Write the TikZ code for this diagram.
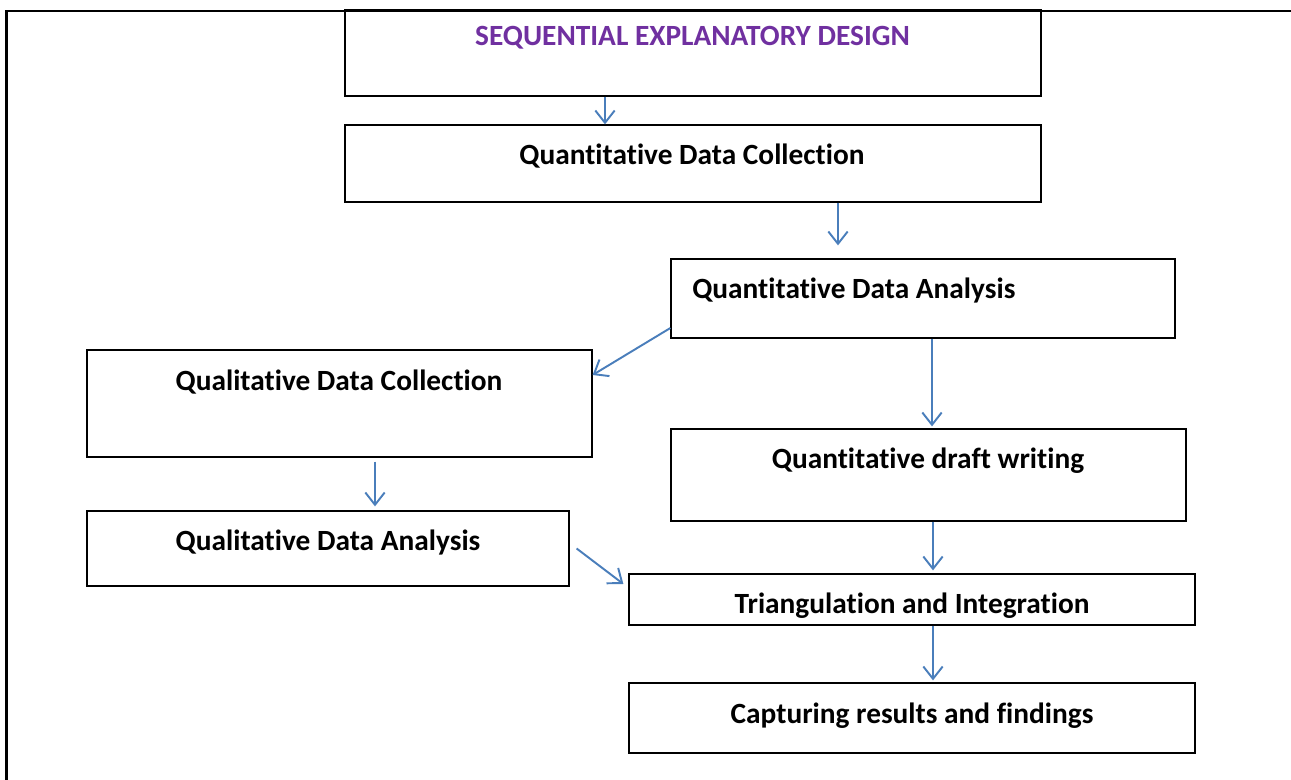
\documentclass[tikz,border=0pt]{standalone}
\usepackage{fontspec}
\setmainfont[Ligatures=NoCommon]{Carlito}
\usetikzlibrary{arrows.meta}
\definecolor{arrowblue}{HTML}{4A7EBB}
\definecolor{titlepurple}{HTML}{7030A0}

\begin{document}
\begin{tikzpicture}[
  box/.style={draw, line width=0.7pt, rectangle, inner sep=0pt},
  lbl/.style={font=\fontsize{16.7}{20}\selectfont\bfseries, anchor=base, inner sep=0pt},
  flow/.style={arrowblue, line width=1.1pt, -{Straight Barb[length=7pt,width=11pt]}}
]

  % --- 1. page frame ---
  \useasboundingbox (0,0) rectangle (25.82,-15.6);
  \draw[line width=1.2pt] (25.82,-0.22) -- (0.13,-0.22) -- (0.13,-15.6);

  % --- 2. boxes ---
  \node[box, minimum width=13.92cm, minimum height=1.72cm] (title)  at (13.86,-1.06) {};
  \node[box, minimum width=13.92cm, minimum height=1.54cm] (qdc)    at (13.86,-3.27) {};
  \node[box, minimum width=10.08cm, minimum height=1.58cm] (qda)    at (18.46,-5.97) {};
  \node[box, minimum width=10.10cm, minimum height=2.14cm] (qualdc) at (6.79,-8.07) {};
  \node[box, minimum width=10.30cm, minimum height=1.84cm] (draft)  at (18.57,-9.50) {};
  \node[box, minimum width=9.64cm,  minimum height=1.50cm] (qualda) at (6.56,-10.97) {};
  \node[box, minimum width=11.32cm, minimum height=1.02cm] (tri)    at (18.24,-11.99) {};
  \node[box, minimum width=11.32cm, minimum height=1.40cm] (cap)    at (18.24,-14.36) {};

  % --- 3. texts ---
  \node[lbl, text=titlepurple] (titletext) at (13.85,-0.91) {SEQUENTIAL EXPLANATORY DESIGN};
  \node[lbl] (qdctext)    at (13.84,-3.30)  {Quantitative Data Collection};
  \node[lbl, anchor=base west] (qdatext) at (13.84,-5.97) {Quantitative Data Analysis};
  \node[lbl] (qualdctext) at (6.78,-7.81)   {Qualitative Data Collection};
  \node[lbl] (drafttext)  at (18.56,-9.37)  {Quantitative draft writing};
  \node[lbl] (qualdatext) at (6.56,-11.01)  {Qualitative Data Analysis};
  \node[lbl] (tritext)    at (18.24,-12.27) {Triangulation and Integration};
  \node[lbl] (captext)    at (18.24,-14.47) {Capturing results and findings};

  % --- 4. arrows ---
  \coordinate (a1) at ([xshift=-1.76cm]title.south);
  \draw[flow] (a1) -- (a1 |- qdc.north);

  \coordinate (b1) at ([xshift=2.90cm]qdc.south);
  \draw[flow, shorten >=0.26cm] (b1) -- (b1 |- qda.north);

  \draw[flow] ([yshift=-0.59cm]qda.west) -- ([yshift=0.57cm]qualdc.east);

  \coordinate (d1) at ([xshift=0.18cm]qda.south);
  \draw[flow, shorten >=0.04cm] (d1) -- (d1 |- draft.north);

  \coordinate (e1) at ([xshift=0.71cm]qualdc.south);
  \draw[flow, shorten <=0.08cm, shorten >=0.08cm] (e1) -- (e1 |- qualda.north);

  \draw[flow] ([xshift=0.14cm]qualda.east) -- ([xshift=-0.10cm, yshift=0.31cm]tri.west);

  \coordinate (g1) at ([xshift=0.09cm]draft.south);
  \draw[flow, shorten >=0.06cm] (g1) -- (g1 |- tri.north);

  \coordinate (h1) at ([xshift=0.42cm]tri.south);
  \draw[flow, shorten >=0.04cm] (h1) -- (h1 |- cap.north);

\end{tikzpicture}
\end{document}
